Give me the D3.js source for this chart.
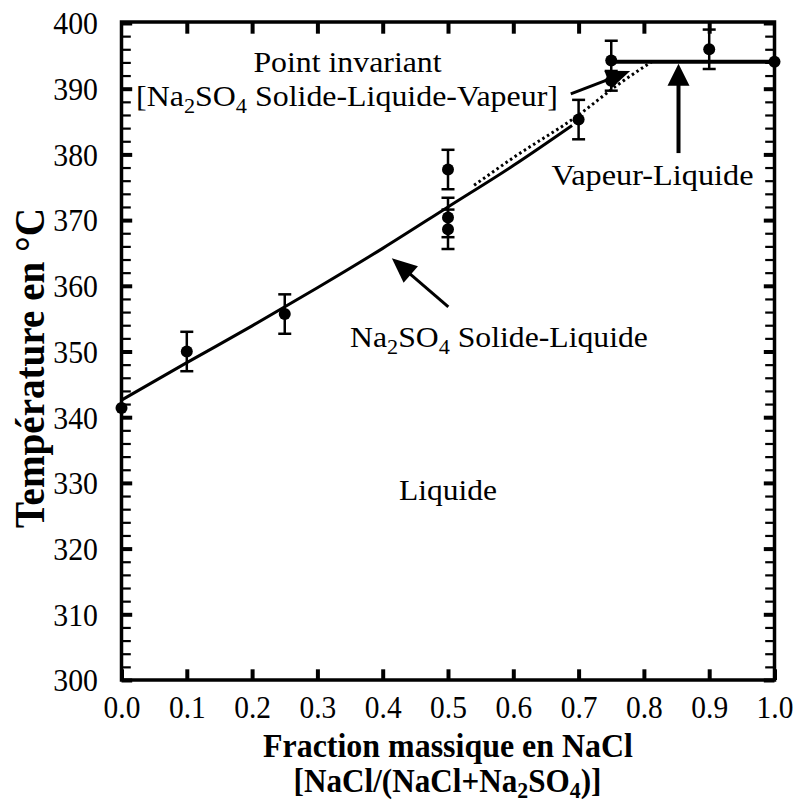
<!DOCTYPE html>
<html lang="fr">
  <head>
    <meta charset="utf-8">
    <title>Diagramme NaCl - Na2SO4</title>
    <style>
      body { margin: 0; background: #fff; }
      svg { display: block; }
    </style>
  </head>
  <body>
    <script src="https://d3js.org/d3.v7.min.js"></script>
    <script>
      // measured points (fraction NaCl, temperature, error bar half-size)
      const ptFrac = [0.0, 0.1, 0.25, 0.5, 0.5, 0.5, 0.7, 0.75, 0.75, 0.9, 1.0]
      const ptTemp = [341.4, 350.0, 355.7, 377.7, 370.4, 368.6, 385.3, 394.3, 391.2, 396.0, 394.1]
      const ptErr = [0, 3, 3, 3, 3, 3, 3, 3, 1.5, 3, 0]

      // Na2SO4 solide-liquide curve
      const solidFrac = [0.0, 0.1, 0.2, 0.3, 0.4, 0.5, 0.6, 0.69]
      const solidTemp = [342.6, 348.3, 353.9, 359.7, 365.7, 372.0, 378.3, 384.4]

      // dotted extension to the invariant point
      const dotFrac = [0.54, 0.6, 0.7, 0.76, 0.812]
      const dotTemp = [375.3, 379.5, 386.0, 390.6, 394.1]

      // vapeur-liquide line
      const vlFrac = [0.75, 1.0]
      const vlTemp = [394.1, 394.1]

      const xTickVals = [0, 0.1, 0.2, 0.3, 0.4, 0.5, 0.6, 0.7, 0.8, 0.9, 1.0]
      const xTickLabels = ["0.0", "0.1", "0.2", "0.3", "0.4", "0.5", "0.6", "0.7", "0.8", "0.9", "1.0"]
      const yTickVals = [300, 310, 320, 330, 340, 350, 360, 370, 380, 390, 400]

      // annotation arrows: [from frac, from temp, to frac, to temp]
      const arrows = [
        [0.688, 389.2, 0.779, 392.7],
        [0.853, 380.2, 0.853, 393.8],
        [0.5005, 356.8, 0.414, 364.2]
      ]

      const SERIF = "'Liberation Serif', 'Times New Roman', Times, serif"
      const w = 797
      const h = 805

      const x = d3.scaleLinear().domain([0, 1]).range([121.5, 774.5])
      const y = d3.scaleLinear().domain([300, 400]).range([680, 23])

      const svg = d3.select("body").append("svg")
        .attr("width", w)
        .attr("height", h)

      svg.append("rect").attr("width", w).attr("height", h).attr("fill", "#fff")

      // ticks (all inward)
      function styleAxis(g, sw) {
        g.select(".domain").remove()
        g.selectAll("line").attr("stroke", "#000").attr("stroke-width", sw)
        g.attr("font-family", SERIF).attr("font-size", 32)
      }

      const minorY = d3.range(302, 400, 2).filter(d => d % 10 !== 0)

      // left
      const gl = svg.append("g").attr("transform", `translate(${x(0)},0)`)
        .call(d3.axisLeft(y).tickValues(yTickVals).tickSize(-10.7).tickPadding(0).tickFormat(d3.format("d")))
      styleAxis(gl, 4)
      gl.selectAll("text")
        .attr("x", 0)
        .attr("dy", "0.34em")
        .attr("fill", "#000")
        .attr("transform", "translate(-23.5,0) scale(0.93,1)")
      const glm = svg.append("g").attr("transform", `translate(${x(0)},0)`)
        .call(d3.axisLeft(y).tickValues(minorY).tickSize(-9.3).tickFormat(""))
      styleAxis(glm, 2.2)

      // right
      const gr = svg.append("g").attr("transform", `translate(${x(1)},0)`)
        .call(d3.axisRight(y).tickValues(yTickVals).tickSize(-10.7).tickFormat(""))
      styleAxis(gr, 4)
      const grm = svg.append("g").attr("transform", `translate(${x(1)},0)`)
        .call(d3.axisRight(y).tickValues(minorY).tickSize(-9.3).tickFormat(""))
      styleAxis(grm, 2.2)

      // bottom
      const gb = svg.append("g").attr("transform", `translate(0,${y(300)})`)
        .call(d3.axisBottom(x).tickValues(xTickVals).tickSize(-10.7).tickFormat((d, i) => xTickLabels[i]))
      styleAxis(gb, 4)
      gb.selectAll("text")
        .attr("y", 0)
        .attr("dy", 0)
        .attr("fill", "#000")
        .attr("transform", "translate(0,38) scale(0.92,1)")

      // top
      const gt = svg.append("g").attr("transform", `translate(0,${y(400)})`)
        .call(d3.axisTop(x).tickValues(xTickVals.slice(1, -1)).tickSize(-10.7).tickFormat(""))
      styleAxis(gt, 4)

      // frame
      svg.append("rect")
        .attr("x", x(0))
        .attr("y", y(400) - 1)
        .attr("width", x(1) - x(0))
        .attr("height", y(300) - y(400) + 1)
        .attr("fill", "none")
        .attr("stroke", "#000")
        .attr("stroke-width", 3.5)

      // curves
      const solid = solidFrac.map((d, i) => [d, solidTemp[i]])
      const dotted = dotFrac.map((d, i) => [d, dotTemp[i]])
      const vl = vlFrac.map((d, i) => [d, vlTemp[i]])

      const line = d3.line()
        .x(d => x(d[0]))
        .y(d => y(d[1]))
        .curve(d3.curveMonotoneX)

      svg.append("path").attr("d", line(dotted))
        .attr("fill", "none").attr("stroke", "#000")
        .attr("stroke-width", 3).attr("stroke-dasharray", "2.5,3")

      svg.append("path").attr("d", line(solid))
        .attr("fill", "none").attr("stroke", "#000").attr("stroke-width", 3)

      svg.append("path").attr("d", line(vl))
        .attr("fill", "none").attr("stroke", "#000").attr("stroke-width", 4)

      // error bars + points
      const pts = ptFrac.map((d, i) => ({ f: d, t: ptTemp[i], e: ptErr[i] }))
      const bars = svg.append("g").attr("stroke", "#000").attr("stroke-width", 2.5)
      pts.filter(d => d.e > 0).forEach(d => {
        const px = x(d.f)
        bars.append("line").attr("x1", px).attr("x2", px).attr("y1", y(d.t - d.e)).attr("y2", y(d.t + d.e))
        bars.append("line").attr("x1", px - 6.5).attr("x2", px + 6.5).attr("y1", y(d.t + d.e)).attr("y2", y(d.t + d.e))
        bars.append("line").attr("x1", px - 6.5).attr("x2", px + 6.5).attr("y1", y(d.t - d.e)).attr("y2", y(d.t - d.e))
      })

      svg.append("g").selectAll("circle")
        .data(pts)
        .enter()
        .append("circle")
        .attr("cx", d => x(d.f))
        .attr("cy", d => y(d.t))
        .attr("r", 6)
        .attr("fill", "#000")

      // arrows
      const heads = [[24, 9.5, 3], [22, 11, 4], [25, 11, 3]]
      arrows.forEach((a, i) => {
        const [len, half, sw] = heads[i]
        const ax = x(a[0]), ay = y(a[1]), bx = x(a[2]), by = y(a[3])
        const dx = bx - ax, dy = by - ay, dist = Math.hypot(dx, dy)
        const ux = dx / dist, uy = dy / dist
        const cx = bx - ux * len, cy = by - uy * len
        svg.append("line")
          .attr("x1", ax).attr("y1", ay)
          .attr("x2", cx + ux * 3).attr("y2", cy + uy * 3)
          .attr("stroke", "#000").attr("stroke-width", sw)
        svg.append("polygon")
          .attr("points", [[bx, by], [cx - uy * half, cy + ux * half], [cx + uy * half, cy - ux * half]].join(" "))
          .attr("fill", "#000")
      })

      // texts, "_2" = subscript 2
      function label(str, cx, base, width, size, opts = {}) {
        const t = svg.append("text")
          .attr("font-family", SERIF)
          .attr("font-size", size)
          .attr("font-weight", opts.bold ? "bold" : "normal")
          .attr("text-anchor", "middle")
          .attr("fill", "#000")
        const shift = size * (opts.sub || 0.22)
        let back = false
        str.split(/(_\d)/).filter(s => s.length).forEach(s => {
          if (s[0] === "_") {
            t.append("tspan").attr("font-size", size * 0.7).attr("dy", shift).text(s.slice(1))
            back = true
          } else {
            t.append("tspan").attr("dy", back ? -shift : 0).text(s)
            back = false
          }
        })
        const bw = t.node().getBBox().width
        const sx = width / bw
        const rot = opts.rotate ? ` rotate(${opts.rotate})` : ""
        t.attr("transform", `translate(${cx},${base})${rot} scale(${sx},1)`)
      }

      label("Point invariant", 347.5, 72, 189, 30)
      label("[Na_2SO_4 Solide-Liquide-Vapeur]", 347, 106, 422, 30)
      label("Vapeur-Liquide", 652.5, 185, 202, 30)
      label("Na_2SO_4 Solide-Liquide", 499, 347, 298, 30)
      label("Liquide", 448, 500, 98, 30)

      label("Fraction massique en NaCl", 448, 757, 370, 33, { bold: true })
      label("[NaCl/(NaCl+Na_2SO_4)]", 447.5, 792, 308, 33, { bold: true, sub: 0.18 })
      label("Température en °C", 44, 368, 320, 42, { bold: true, rotate: -90 })
    </script>
  </body>
</html>
